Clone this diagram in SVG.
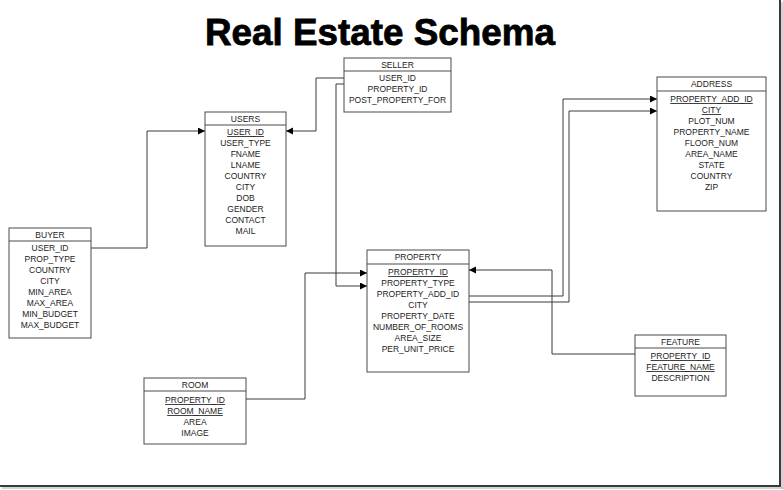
<svg xmlns="http://www.w3.org/2000/svg" width="783" height="490" viewBox="0 0 783 490">
<defs>
<style>
.box{fill:#fff;stroke:#4a4a4a;stroke-width:1}
.sep{stroke:#4a4a4a;stroke-width:1}
.t{font-family:"Liberation Sans",Arial,sans-serif;font-size:8.5px;fill:#222;text-anchor:middle}
.k{text-decoration:underline}
.conn{fill:none;stroke:#3a3a3a;stroke-width:1}
.title{font-family:"Liberation Sans",Arial,sans-serif;font-weight:bold;font-size:37px;fill:#000;stroke:#000;stroke-width:0.8;text-anchor:middle}
</style>
<marker id="arr" markerUnits="userSpaceOnUse" markerWidth="8" markerHeight="8" refX="7" refY="3.5" orient="auto">
<path d="M0,0 L7,3.5 L0,7 z" fill="#000"/>
</marker>
</defs>
<rect x="0" y="0" width="783" height="490" fill="#fff"/>
<g id="frame">
<line x1="780" y1="0" x2="780" y2="487" stroke="#3a3a3a" stroke-width="2"/>
<line x1="782" y1="2" x2="782" y2="489" stroke="#aaa" stroke-width="1"/>
<line x1="0" y1="486" x2="781" y2="486" stroke="#3a3a3a" stroke-width="2"/>
<line x1="2" y1="488" x2="783" y2="488" stroke="#aaa" stroke-width="1"/>
</g>
<text class="title" x="380" y="45" textLength="350" lengthAdjust="spacingAndGlyphs">Real Estate Schema</text>
<g id="connectors">
<path class="conn" d="M91,248 H147 V131 H205" marker-end="url(#arr)"/>
<path class="conn" d="M344,78 H316 V131 H286" marker-end="url(#arr)"/>
<path class="conn" d="M344,84 H336 V286 H367" marker-end="url(#arr)"/>
<path class="conn" d="M246,399 H305 V273 H367" marker-end="url(#arr)"/>
<path class="conn" d="M635,354 H552 V270 H469" marker-end="url(#arr)"/>
<path class="conn" d="M469,296 H563 V99 H657" marker-end="url(#arr)"/>
<path class="conn" d="M469,302 H569 V111 H657" marker-end="url(#arr)"/>
</g>
<g id="seller">
<rect class="box" x="344" y="58" width="107" height="54"/>
<line class="sep" x1="344" y1="71" x2="451" y2="71"/>
<text class="t" x="397.5" y="67.5">SELLER</text>
<text class="t" x="397.5" y="81">USER_ID</text>
<text class="t" x="397.5" y="92">PROPERTY_ID</text>
<text class="t" x="397.5" y="103">POST_PROPERTY_FOR</text>
</g>
<g id="users">
<rect class="box" x="205" y="112" width="81" height="134"/>
<line class="sep" x1="205" y1="125" x2="286" y2="125"/>
<text class="t" x="245.5" y="121.5">USERS</text>
<text class="t k" x="245.5" y="135">USER_ID</text>
<text class="t" x="245.5" y="146">USER_TYPE</text>
<text class="t" x="245.5" y="157">FNAME</text>
<text class="t" x="245.5" y="168">LNAME</text>
<text class="t" x="245.5" y="179">COUNTRY</text>
<text class="t" x="245.5" y="190">CITY</text>
<text class="t" x="245.5" y="201">DOB</text>
<text class="t" x="245.5" y="212">GENDER</text>
<text class="t" x="245.5" y="223">CONTACT</text>
<text class="t" x="245.5" y="234">MAIL</text>
</g>
<g id="address">
<rect class="box" x="657" y="77" width="109" height="134"/>
<line class="sep" x1="657" y1="91" x2="766" y2="91"/>
<text class="t" x="711.5" y="87">ADDRESS</text>
<text class="t k" x="711.5" y="102">PROPERTY_ADD_ID</text>
<text class="t k" x="711.5" y="113">CITY</text>
<text class="t" x="711.5" y="124">PLOT_NUM</text>
<text class="t" x="711.5" y="135">PROPERTY_NAME</text>
<text class="t" x="711.5" y="146">FLOOR_NUM</text>
<text class="t" x="711.5" y="157">AREA_NAME</text>
<text class="t" x="711.5" y="168">STATE</text>
<text class="t" x="711.5" y="179">COUNTRY</text>
<text class="t" x="711.5" y="190">ZIP</text>
</g>
<g id="buyer">
<rect class="box" x="9" y="228" width="82" height="110"/>
<line class="sep" x1="9" y1="241" x2="91" y2="241"/>
<text class="t" x="50" y="237.5">BUYER</text>
<text class="t" x="50" y="251">USER_ID</text>
<text class="t" x="50" y="262">PROP_TYPE</text>
<text class="t" x="50" y="273">COUNTRY</text>
<text class="t" x="50" y="284">CITY</text>
<text class="t" x="50" y="295">MIN_AREA</text>
<text class="t" x="50" y="306">MAX_AREA</text>
<text class="t" x="50" y="317">MIN_BUDGET</text>
<text class="t" x="50" y="328">MAX_BUDGET</text>
</g>
<g id="property">
<rect class="box" x="367" y="250" width="102" height="122"/>
<line class="sep" x1="367" y1="264" x2="469" y2="264"/>
<text class="t" x="418" y="260">PROPERTY</text>
<text class="t k" x="418" y="275">PROPERTY_ID</text>
<text class="t" x="418" y="286">PROPERTY_TYPE</text>
<text class="t" x="418" y="297">PROPERTY_ADD_ID</text>
<text class="t" x="418" y="308">CITY</text>
<text class="t" x="418" y="319">PROPERTY_DATE</text>
<text class="t" x="418" y="330">NUMBER_OF_ROOMS</text>
<text class="t" x="418" y="341">AREA_SIZE</text>
<text class="t" x="418" y="352">PER_UNIT_PRICE</text>
</g>
<g id="feature">
<rect class="box" x="635" y="335" width="91" height="61"/>
<line class="sep" x1="635" y1="348" x2="726" y2="348"/>
<text class="t" x="680.5" y="344.5">FEATURE</text>
<text class="t k" x="680.5" y="359">PROPERTY_ID</text>
<text class="t k" x="680.5" y="370">FEATURE_NAME</text>
<text class="t" x="680.5" y="381">DESCRIPTION</text>
</g>
<g id="room">
<rect class="box" x="144" y="378" width="102" height="66"/>
<line class="sep" x1="144" y1="391" x2="246" y2="391"/>
<text class="t" x="195" y="387.5">ROOM</text>
<text class="t k" x="195" y="403">PROPERTY_ID</text>
<text class="t k" x="195" y="414">ROOM_NAME</text>
<text class="t" x="195" y="425">AREA</text>
<text class="t" x="195" y="436">IMAGE</text>
</g>
</svg>
